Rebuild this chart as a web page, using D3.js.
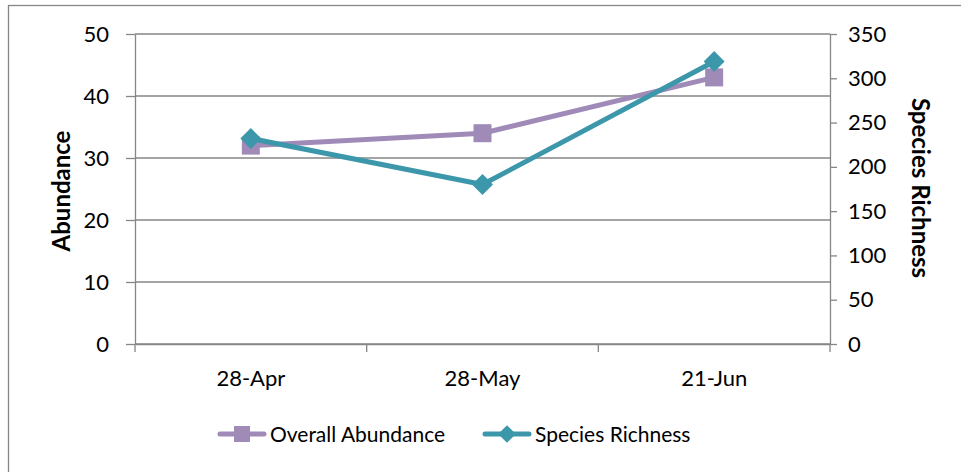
<!DOCTYPE html>
<meta charset='utf-8'>
<style>
body {
    margin: 0;
    background: #fff;
}
svg text {
    font-family: Lato, 'Open Sans', sans-serif;
    fill: #000;
}
.grid line {
    stroke: #868686;
    stroke-width: 1.3px;
}
.axis path, .axis line {
    stroke: #868686;
    stroke-width: 1.3px;
}
</style>
<body>
<div class='chart'></div>
<script src='https://d3js.org/d3.v7.min.js'></script>
<script>
var dates = ['28-Apr', '28-May', '21-Jun'];
var abundance = [32, 34, 43];
var richness = [232, 180, 319];
var leftTicks = [0, 10, 20, 30, 40, 50];
var rightTicks = [0, 50, 100, 150, 200, 250, 300, 350];

var width = 961, height = 472;
var plot = {left: 135, right: 830, top: 34, bottom: 344};

var svg = d3.select('.chart').append('svg')
    .attr('width', width)
    .attr('height', height);

// chart border (cut off at right/bottom in the original)
svg.append('rect')
    .attr('x', 8.5).attr('y', 5.5)
    .attr('width', 970).attr('height', 480)
    .attr('fill', 'none')
    .attr('stroke', '#868686')
    .attr('stroke-width', 1.3);

var x = d3.scaleBand()
    .domain(dates)
    .range([plot.left, plot.right]);

var yL = d3.scaleLinear().domain([0, 50]).range([plot.bottom, plot.top]);
var yR = d3.scaleLinear().domain([0, 350]).range([plot.bottom, plot.top]);

// gridlines
svg.append('g').attr('class', 'grid')
    .selectAll('line')
    .data(leftTicks)
    .enter().append('line')
    .attr('x1', plot.left).attr('x2', plot.right)
    .attr('y1', function(d) { return yL(d); })
    .attr('y2', function(d) { return yL(d); });

// left axis
var gl = svg.append('g').attr('class', 'axis')
    .attr('transform', 'translate(' + plot.left + ',0)')
    .call(d3.axisLeft(yL).tickValues(leftTicks).tickSize(9).tickPadding(17).tickSizeOuter(0));
gl.selectAll('text').style('font-size', '22px');

// right axis
var gr = svg.append('g').attr('class', 'axis')
    .attr('transform', 'translate(' + plot.right + ',0)')
    .call(d3.axisRight(yR).tickValues(rightTicks).tickSize(7).tickPadding(11).tickSizeOuter(0));
gr.selectAll('text').style('font-size', '22px');

// bottom axis
var gb = svg.append('g').attr('class', 'axis')
    .attr('transform', 'translate(0,' + plot.bottom + ')')
    .call(d3.axisBottom(x).tickSize(0).tickPadding(26));
gb.selectAll('text').style('font-size', '22px');
gb.selectAll('.sep')
    .data(d3.range(dates.length + 1))
    .enter().append('line')
    .attr('x1', function(i) { return plot.left + i * x.step(); })
    .attr('x2', function(i) { return plot.left + i * x.step(); })
    .attr('y1', 0).attr('y2', 8);

// axis titles
svg.append('text')
    .attr('transform', 'translate(70,' + ((plot.top + plot.bottom) / 2 + 2) + ') rotate(-90)')
    .attr('text-anchor', 'middle')
    .style('font-size', '24px')
    .style('font-weight', 'bold')
    .text('Abundance');

svg.append('text')
    .attr('transform', 'translate(912,' + ((plot.top + plot.bottom) / 2 - 1) + ') rotate(90)')
    .attr('text-anchor', 'middle')
    .style('font-size', '24px')
    .style('font-weight', 'bold')
    .text('Species Richness');

var purple = '#a08ab8', teal = '#3d97ab';
var cx = function(i) { return x(dates[i]) + x.bandwidth() / 2; };

var lineA = d3.line()
    .x(function(d, i) { return cx(i); })
    .y(function(d) { return yL(d); });
var lineR = d3.line()
    .x(function(d, i) { return cx(i); })
    .y(function(d) { return yR(d); });

svg.append('path')
    .datum(abundance)
    .attr('d', lineA)
    .attr('fill', 'none')
    .attr('stroke', purple)
    .attr('stroke-width', 5)
    .attr('stroke-linejoin', 'round');

svg.selectAll('.sq')
    .data(abundance)
    .enter().append('rect')
    .attr('x', function(d, i) { return cx(i) - 9; })
    .attr('y', function(d) { return yL(d) - 9; })
    .attr('width', 18).attr('height', 18)
    .attr('fill', purple);

svg.append('path')
    .datum(richness)
    .attr('d', lineR)
    .attr('fill', 'none')
    .attr('stroke', teal)
    .attr('stroke-width', 5)
    .attr('stroke-linejoin', 'round');

var diamond = d3.symbol().type(d3.symbolDiamond2).size(280);
svg.selectAll('.dm')
    .data(richness)
    .enter().append('path')
    .attr('d', diamond)
    .attr('transform', function(d, i) { return 'translate(' + cx(i) + ',' + yR(d) + ')'; })
    .attr('fill', teal);

// legend
var legend = [
    {name: 'Overall Abundance', color: purple, x: 218, shape: 'square'},
    {name: 'Species Richness', color: teal, x: 483, shape: 'diamond'}
];
var ly = 434;
legend.forEach(function(l) {
    svg.append('line')
        .attr('x1', l.x + 2).attr('x2', l.x + 46)
        .attr('y1', ly).attr('y2', ly)
        .attr('stroke', l.color)
        .attr('stroke-width', 5)
        .attr('stroke-linecap', 'round');
    if (l.shape === 'square') {
        svg.append('rect')
            .attr('x', l.x + 24 - 8).attr('y', ly - 8)
            .attr('width', 16).attr('height', 16)
            .attr('fill', l.color);
    } else {
        svg.append('path')
            .attr('d', d3.symbol().type(d3.symbolDiamond2).size(200))
            .attr('transform', 'translate(' + (l.x + 24) + ',' + ly + ')')
            .attr('fill', l.color);
    }
    svg.append('text')
        .attr('x', l.x + 52).attr('y', ly + 8)
        .style('font-size', '21px')
        .text(l.name);
});
</script>
